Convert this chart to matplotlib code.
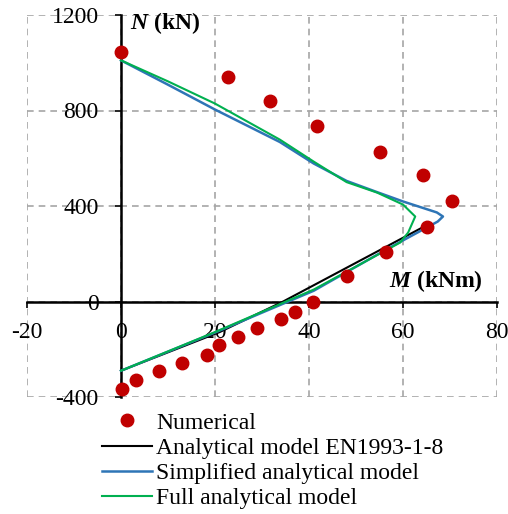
import matplotlib
matplotlib.use("Agg")
import matplotlib.pyplot as plt

plt.rcParams['font.family'] = ['Liberation Serif', 'DejaVu Serif']
plt.rcParams['axes.unicode_minus'] = False
plt.rcParams['mathtext.fontset'] = 'custom'
plt.rcParams['mathtext.rm'] = 'Liberation Serif'
plt.rcParams['mathtext.it'] = 'Liberation Serif:italic'
plt.rcParams['mathtext.bf'] = 'Liberation Serif:bold'
plt.rcParams['mathtext.bfit'] = 'Liberation Serif:italic:bold'

# numerical results
M_num = [0, 22.7, 31.8, 41.7, 55.1, 64.3, 70.4, 65.1, 56.4, 48.1, 40.9,
         37.0, 34.0, 28.9, 24.9, 20.9, 18.2, 12.9, 8.1, 3.2, 0.2]
N_num = [1047, 942, 840, 737, 628, 528, 419, 314, 209, 105, 0,
         -42, -73, -109, -147, -183, -222, -256, -293, -330, -365]

# analytical model EN1993-1-8
M_en = [0, 21, 34.5, 64.5]
N_en = [-290, -128, 0, 314]

# simplified analytical model
M_simp = [0, 10, 20, 33.8, 41, 48, 54.5, 60, 67.2, 68.5, 67.4, 57.2, 41, 20, 0]
N_simp = [1010, 908, 804, 668, 578, 505, 458, 419, 373, 356, 335, 226, 45, -130, -290]

# full analytical model
M_full = [0, 10, 20, 33.8, 41, 48, 54.5, 60, 62.6, 61.1, 59.4, 41, 20, 0]
N_full = [1010, 922, 829, 678, 586, 500, 456, 406, 356, 289, 247, 50, -128, -290]

x_ticks = [-20, 0, 20, 40, 60, 80]
y_ticks = [-400, 0, 400, 800, 1200]

fig = plt.figure(figsize=(5.08, 5.14), dpi=100)
ax = fig.add_axes([27/508, 1-397/514, 470/508, 382/514])

ax.plot(M_num, N_num, 'o', color='#C00000', ms=9, label='Numerical', zorder=5)
ax.plot(M_en, N_en, color='black', lw=1.5, label='Analytical model EN1993-1-8', zorder=3)
ax.plot(M_simp, N_simp, color='#2E75B6', lw=1.8, label='Simplified analytical model', zorder=3)
ax.plot(M_full, N_full, color='#00B050', lw=1.5, label='Full analytical model', zorder=4)

ax.set_xlim(-20, 80)
ax.set_ylim(-400, 1200)
ax.set_xticks(x_ticks)
ax.set_yticks(y_ticks)
ax.grid(True, color='#A6A6A6', ls=(0, (4, 3)), lw=1.2)
ax.set_axisbelow(True)

for s in ['top', 'right']:
    ax.spines[s].set_visible(False)
ax.spines['left'].set_position(('data', 0))
ax.spines['bottom'].set_position(('data', 0))
ax.spines['left'].set_linewidth(1.8)
ax.spines['bottom'].set_linewidth(1.8)
ax.tick_params(axis='both', direction='out', length=4, width=1.2, labelsize=17)
ax.tick_params(axis='y', pad=12)
ax.tick_params(axis='x', pad=11)

ax.text(1.9, 1165, r'$\mathbfit{N}$ (kN)', fontsize=17, fontweight='bold', va='center', ha='left')
ax.text(77, 84, r'$\mathbfit{M}$ (kNm)', fontsize=17, fontweight='bold', va='center', ha='right')

fig.legend(loc='upper left', bbox_to_anchor=(102/508, 1-412/514), frameon=False,
           fontsize=17, borderpad=0, borderaxespad=0, labelspacing=0.16,
           handlelength=2.1, handletextpad=0.2)

fig.savefig('out.png', dpi=100)
